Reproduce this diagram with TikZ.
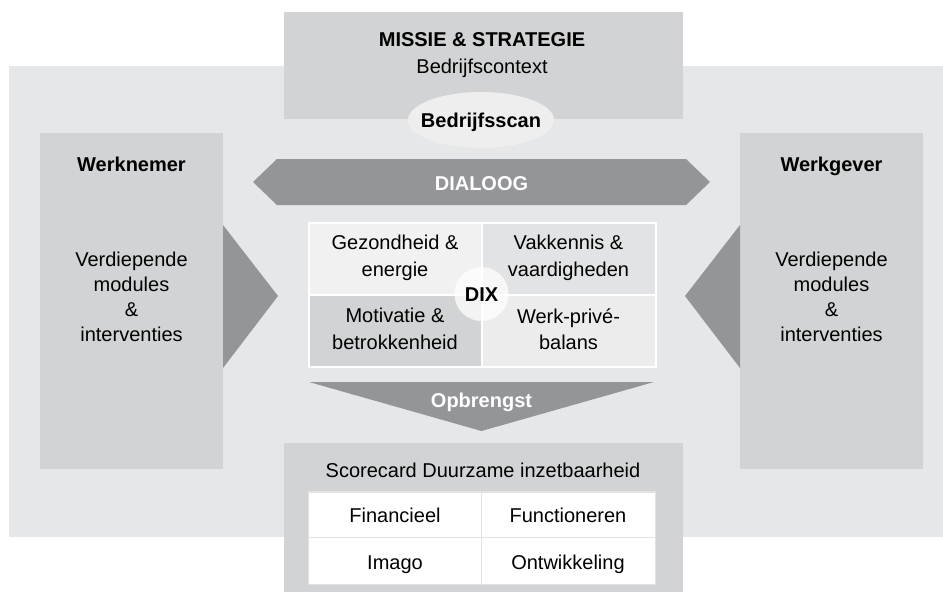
\documentclass[tikz,border=0pt]{standalone}
\usepackage{fontspec}
\setmainfont{Liberation Sans}
\usetikzlibrary{shapes.geometric}
\definecolor{panelc}{HTML}{E6E7E8}
\definecolor{boxc}{HTML}{D1D3D4}
\definecolor{darkc}{HTML}{939598}
\definecolor{ellc}{HTML}{EEEEEF}
\definecolor{cellA}{HTML}{F1F1F2}
\definecolor{cellB}{HTML}{E2E3E4}
\definecolor{cellC}{HTML}{D1D3D4}
\definecolor{cellD}{HTML}{ECECED}
\definecolor{gridc}{HTML}{E2E2E3}
\tikzset{
  txt/.style={font=\fontsize{20}{25}\selectfont, align=center, inner sep=0pt, text=black},
  stxt/.style={txt, text height=14.3pt, text depth=0pt},
  btxt/.style={stxt, font=\fontsize{20}{25}\selectfont\bfseries},
  wtxt/.style={btxt, text=white},
  dtxt/.style={txt, font=\fontsize{20}{26.5}\selectfont}
}
\begin{document}
\begin{tikzpicture}[x=1pt,y=-1pt]
\useasboundingbox (0,0) rectangle (943,592);
% background panel
\fill[panelc] (9,66) rectangle (943,537);
% top box
\fill[boxc] (284,12) rectangle (683,118.5);
\node[btxt] (missie) at (482,39.7) {MISSIE \& STRATEGIE};
\node[stxt] (context) at (482,66.3) {Bedrijfscontext};
\node[ellipse, fill=ellc, minimum width=146pt, minimum height=56pt, inner sep=0pt] (scan) at (481,120) {};
\node[btxt] (scantext) at (scan.center) {Bedrijfsscan};
% dialoog
\fill[darkc] (253,182) -- (277,159) -- (686,159) -- (710,182) -- (686,205) -- (277,205) -- cycle;
\node[wtxt] (dialoog) at (481.5,183) {DIALOOG};
% side columns
\fill[boxc] (40,133) rectangle (223,469);
\fill[boxc] (740,133) rectangle (923,469);
\fill[darkc] (223,225) -- (278,296) -- (223,368) -- cycle;
\fill[darkc] (740,225) -- (685,296) -- (740,368) -- cycle;
\node[btxt] (wn) at (131.5,164) {Werknemer};
\node[btxt] (wg) at (831.5,164) {Werkgever};
\node[txt] (wnmod) at (131.5,297) {Verdiepende\\modules\\\&\\interventies};
\node[txt] (wgmod) at (831.5,297) {Verdiepende\\modules\\\&\\interventies};
% DIX grid
\fill[white] (307.5,222) rectangle (656.5,368);
\fill[cellA] (309.5,224) rectangle (480.5,293.5);
\fill[cellB] (482.5,224) rectangle (654.5,293.5);
\fill[cellC] (309.5,295.5) rectangle (480.5,366);
\fill[cellD] (482.5,295.5) rectangle (654.5,366);
\node[dtxt] (gez) at (395,258) {Gezondheid \&\\energie};
\node[dtxt] (vak) at (568.5,258) {Vakkennis \&\\vaardigheden};
\node[dtxt] (mot) at (395,329) {Motivatie \&\\betrokkenheid};
\node[dtxt] (wp) at (568.5,329) {Werk-privé-\\balans};
\fill[white, opacity=0.75] (481.5,294) circle (27);
\node[btxt] (dix) at (481.5,294.7) {DIX};
% opbrengst
\fill[darkc] (309,382) -- (654,382) -- (481.5,431) -- cycle;
\node[wtxt] (opb) at (481.5,400) {Opbrengst};
% scorecard
\fill[boxc] (284,443) rectangle (683,592);
\node[stxt] (score) at (483,470) {Scorecard Duurzame inzetbaarheid};
\fill[gridc] (307.5,491) rectangle (656,585);
\fill[white] (309,492.5) rectangle (480.5,536.5);
\fill[white] (482,492.5) rectangle (654.5,536.5);
\fill[white] (309,538) rectangle (480.5,583.5);
\fill[white] (482,538) rectangle (654.5,583.5);
\node[stxt] (fin) at (395,515) {Financieel};
\node[stxt] (fun) at (568,515) {Functioneren};
\node[stxt] (ima) at (395,562) {Imago};
\node[stxt] (ont) at (568,562) {Ontwikkeling};
\end{tikzpicture}
\end{document}
